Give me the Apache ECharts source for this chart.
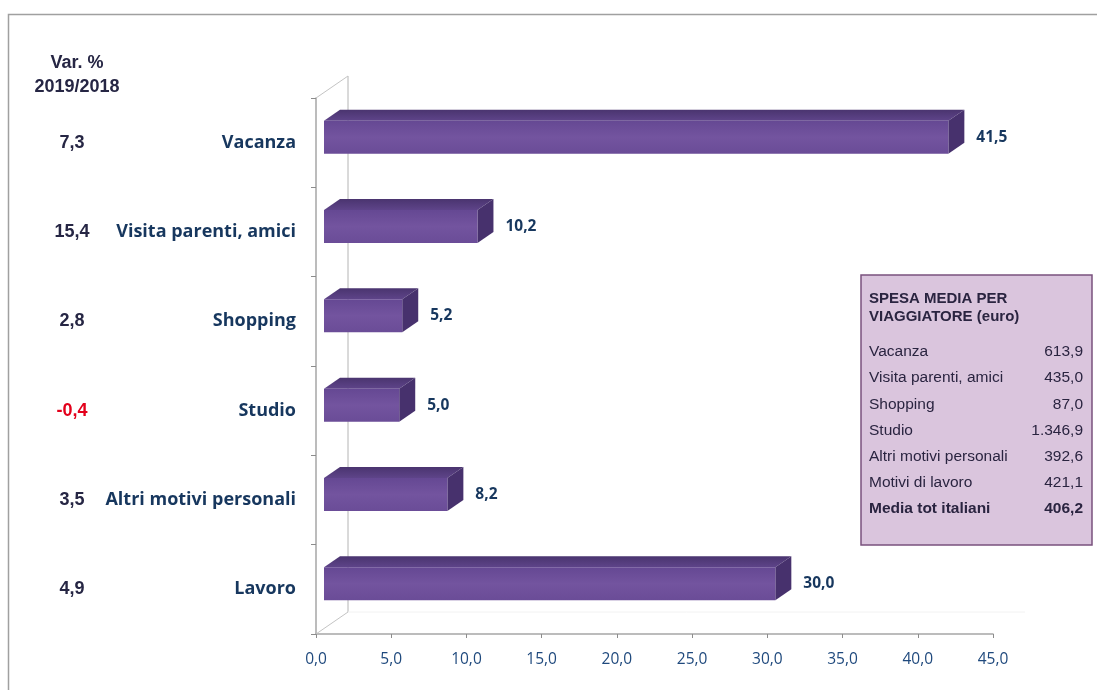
<!DOCTYPE html>
<html>
<head>
<meta charset="utf-8">
<script src="https://cdn.jsdelivr.net/npm/echarts@6/dist/echarts.min.js"></script>
<style>
  html, body { margin: 0; padding: 0; background: #ffffff; }
  #chart { width: 1097px; height: 690px; }
</style>
</head>
<body>
<div id="chart"></div>
<script>
// Motivi del viaggio: quota % e variazione 2019/2018
const categories = ['Vacanza', 'Visita parenti, amici', 'Shopping', 'Studio', 'Altri motivi personali', 'Lavoro'];
const quote = [41.5, 10.2, 5.2, 5.0, 8.2, 30.0];
const varPct = [7.3, 15.4, 2.8, -0.4, 3.5, 4.9];

// Scala dell'asse orizzontale
const xMin = 0;
const xMax = 45;
const xStep = 5;

// Riquadro: spesa media per viaggiatore (euro)
const spesaTitle = ['SPESA MEDIA PER', 'VIAGGIATORE (euro)'];
const spesaLabels = ['Vacanza', 'Visita parenti, amici', 'Shopping', 'Studio', 'Altri motivi personali', 'Motivi di lavoro'];
const spesaValues = [613.9, 435.0, 87.0, 1346.9, 392.6, 421.1];
const spesaTotLabel = 'Media tot italiani';
const spesaTotValue = 406.2;

// Numero in formato italiano: 1.346,9
function fmtIt(v) {
  const s = Math.abs(v).toFixed(1);
  const parts = s.split('.');
  const intPart = parts[0].replace(/\B(?=(\d{3})+(?!\d))/g, '.');
  return (v < 0 ? '-' : '') + intPart + ',' + parts[1];
}

const NAVY = '#17375e';
const DARK = '#262644';
const BOX_TEXT = '#2a2440';

// Profondità della scena 3D (parete di fondo) e della barra
const WALL_DX = 32, WALL_DY = -22;
const BAR_OFF_X = 8, BAR_OFF_Y = -5.5;
const BAR_DX = 16, BAR_DY = -11;

function renderWall(params, api) {
  const cs = params.coordSys;
  const x = cs.x, y = cs.y, w = cs.width, h = cs.height;
  const line = (x1, y1, x2, y2, color) => ({
    type: 'line',
    shape: { x1: x1, y1: y1, x2: x2, y2: y2 },
    style: { stroke: color, lineWidth: 1 },
    silent: true
  });
  return {
    type: 'group',
    children: [
      line(x + WALL_DX, y + WALL_DY, x + WALL_DX, y + h + WALL_DY, '#b4b4b4'),
      line(x, y, x + WALL_DX, y + WALL_DY, '#c4c4c4'),
      line(x, y + h, x + WALL_DX, y + h + WALL_DY, '#c4c4c4'),
      line(x + WALL_DX, y + h + WALL_DY, x + w + WALL_DX, y + h + WALL_DY, '#f2f2f2')
    ]
  };
}

function renderBar(params, api) {
  const v = api.value(0);
  const cat = api.value(1);
  const p0 = api.coord([xMin, cat]);
  const p1 = api.coord([v, cat]);
  const band = api.size([0, 1])[1];
  const h = band * 0.37;
  const xL = p0[0] + BAR_OFF_X;
  const xR = p1[0] + BAR_OFF_X;
  const yT = p0[1] - h / 2 + BAR_OFF_Y;
  const yB = yT + h;
  return {
    type: 'group',
    children: [
      {
        type: 'polygon',
        shape: { points: [[xL, yT], [xL + BAR_DX, yT + BAR_DY], [xR + BAR_DX, yT + BAR_DY], [xR, yT]] },
        style: {
          fill: new echarts.graphic.LinearGradient(0, 0, 0, 1, [
            { offset: 0, color: '#4a346f' },
            { offset: 1, color: '#5e4489' }
          ])
        }
      },
      {
        type: 'polygon',
        shape: { points: [[xR, yT], [xR + BAR_DX, yT + BAR_DY], [xR + BAR_DX, yB + BAR_DY], [xR, yB]] },
        style: { fill: '#47316d' }
      },
      {
        type: 'rect',
        shape: { x: xL, y: yT, width: xR - xL, height: h },
        style: {
          fill: new echarts.graphic.LinearGradient(0, 0, 0, 1, [
            { offset: 0, color: '#654893' },
            { offset: 0.5, color: '#73549f' },
            { offset: 1, color: '#6a4c97' }
          ])
        }
      },
      {
        type: 'text',
        x: xR + BAR_DX + 12,
        y: yT + h / 2,
        style: {
          text: fmtIt(v),
          fill: NAVY,
          font: 'bold 15.5px "Open Sans", sans-serif',
          verticalAlign: 'middle',
          align: 'left'
        }
      }
    ]
  };
}

// Riquadro della spesa media
const boxX = 861, boxY = 275, boxW = 231, boxH = 270;
const boxFont = '15.5px "Liberation Sans", Arial, sans-serif';
const boxFontBold = 'bold 15.5px "Liberation Sans", Arial, sans-serif';
const boxChildren = [
  {
    type: 'rect',
    shape: { x: boxX, y: boxY, width: boxW, height: boxH },
    style: { fill: '#dac5dd', stroke: '#7a527e', lineWidth: 1.5 }
  },
  {
    type: 'text', x: boxX + 8, y: boxY + 15,
    style: { text: spesaTitle.join('\n'), fill: BOX_TEXT, font: 'bold 15px "Liberation Sans", Arial, sans-serif', lineHeight: 18, verticalAlign: 'top' }
  }
];
spesaLabels.forEach((lab, i) => {
  const y = boxY + 77 + i * 26.2;
  boxChildren.push({
    type: 'text', x: boxX + 8, y: y,
    style: { text: lab, fill: BOX_TEXT, font: boxFont, verticalAlign: 'middle' }
  });
  boxChildren.push({
    type: 'text', x: boxX + 222, y: y,
    style: { text: fmtIt(spesaValues[i]), fill: BOX_TEXT, font: boxFont, verticalAlign: 'middle', align: 'right' }
  });
});
const totY = boxY + 77 + spesaLabels.length * 26.2;
boxChildren.push({
  type: 'text', x: boxX + 8, y: totY,
  style: { text: spesaTotLabel, fill: BOX_TEXT, font: boxFontBold, verticalAlign: 'middle' }
});
boxChildren.push({
  type: 'text', x: boxX + 222, y: totY,
  style: { text: fmtIt(spesaTotValue), fill: BOX_TEXT, font: boxFontBold, verticalAlign: 'middle', align: 'right' }
});

const chart = echarts.init(document.getElementById('chart'), null, { renderer: 'canvas' });

chart.setOption({
  animation: false,
  backgroundColor: '#ffffff',
  title: {
    text: 'Var. %\n2019/2018',
    left: 72,
    top: 46,
    textAlign: 'center',
    textStyle: { color: DARK, fontSize: 18, fontWeight: 'bold', fontFamily: '"Liberation Sans", Arial, sans-serif', lineHeight: 24 }
  },
  grid: { left: 316, right: 104, top: 98, bottom: 56, containLabel: false },
  xAxis: {
    type: 'value',
    min: xMin,
    max: xMax,
    interval: xStep,
    splitLine: { show: false },
    axisLine: { show: true, lineStyle: { color: '#a6a6a6', width: 1.5 } },
    axisTick: { show: true, length: 4, lineStyle: { color: '#8c8c8c' } },
    axisLabel: {
      margin: 18,
      color: '#1f497d',
      fontSize: 15.5,
      fontFamily: '"Open Sans", sans-serif',
      formatter: (v) => fmtIt(v)
    }
  },
  yAxis: [
    {
      type: 'category',
      data: categories,
      inverse: true,
      axisLine: { show: true, lineStyle: { color: '#a6a6a6', width: 1.5 } },
      axisTick: { show: true, length: 5, lineStyle: { color: '#8c8c8c' } },
      splitLine: { show: false },
      axisLabel: {
        margin: 20,
        color: NAVY,
        fontSize: 18,
        fontWeight: 'bold',
        fontFamily: '"Open Sans", sans-serif'
      }
    },
    {
      type: 'category',
      data: varPct.map(fmtIt),
      inverse: true,
      position: 'left',
      axisLine: { show: false },
      axisTick: { show: false },
      splitLine: { show: false },
      axisLabel: {
        margin: 244,
        align: 'center',
        formatter: (val) => (val.charAt(0) === '-' ? '{neg|' + val + '}' : '{pos|' + val + '}'),
        rich: {
          pos: { color: DARK, fontSize: 18, fontWeight: 'bold', fontFamily: '"Liberation Sans", Arial, sans-serif' },
          neg: { color: '#e3001b', fontSize: 18, fontWeight: 'bold', fontFamily: '"Liberation Sans", Arial, sans-serif' }
        }
      }
    }
  ],
  graphic: [
    {
      type: 'rect',
      silent: true,
      shape: { x: 8.5, y: 14.5, width: 1200, height: 800 },
      style: { fill: 'none', stroke: '#a0a0a0', lineWidth: 1.5 }
    },
    { type: 'group', children: boxChildren }
  ],
  series: [
    {
      type: 'custom',
      name: 'parete',
      renderItem: renderWall,
      data: [[xMin, 0]],
      encode: { x: 0, y: 1 },
      silent: true,
      z: 1
    },
    {
      type: 'custom',
      name: 'Quota %',
      renderItem: renderBar,
      data: quote.map((v, i) => [v, i]),
      encode: { x: 0, y: 1 },
      z: 3
    }
  ]
});
</script>
</body>
</html>
